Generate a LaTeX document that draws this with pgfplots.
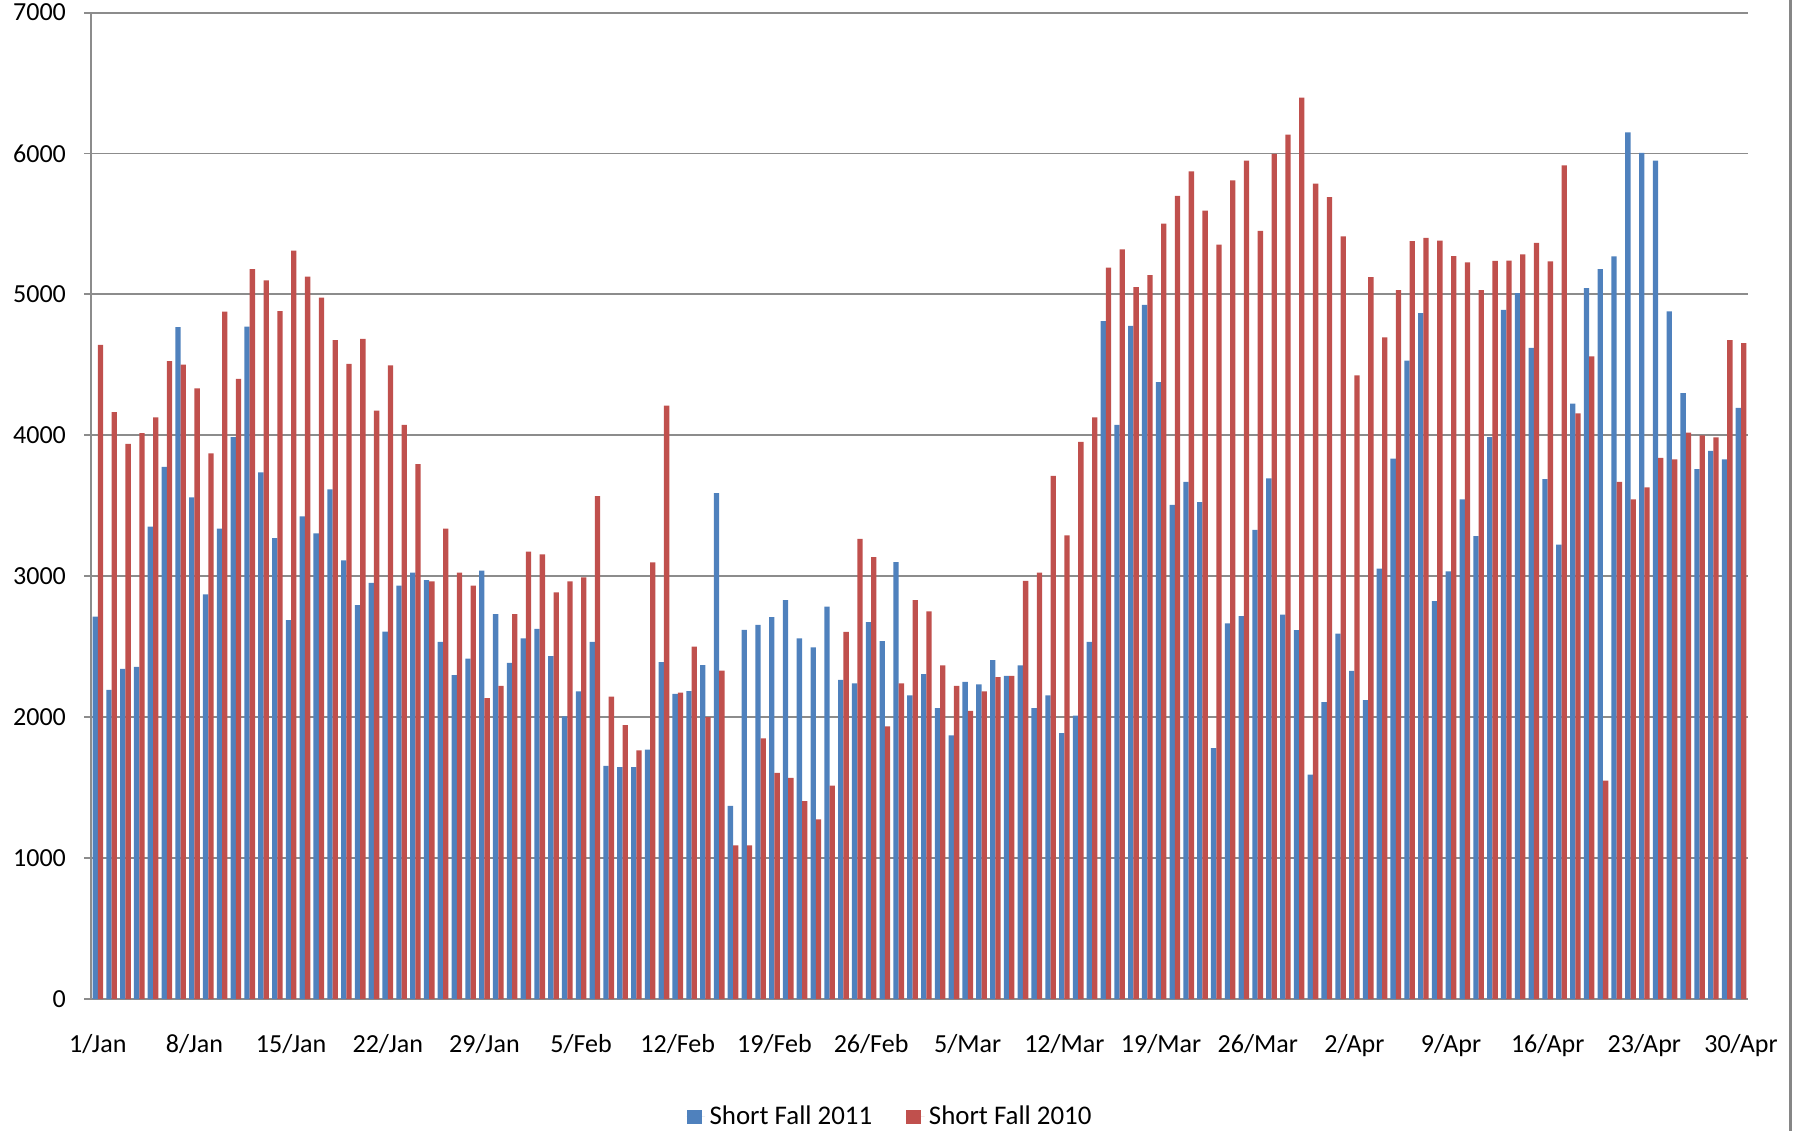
\documentclass[border=0pt]{standalone}
\usepackage{pgfplots}
\usepackage{pgfplotstable}
\usepackage{fontspec}
\setmainfont{Carlito}
\pgfplotsset{compat=1.18}
\definecolor{b11}{HTML}{4F81BD}
\definecolor{r10}{HTML}{C0504D}
\definecolor{gridc}{HTML}{8C8C8C}
\definecolor{framec}{HTML}{868686}
\pgfplotstableread{
x b r
0 2713 4642
1 2193 4165
2 2342 3939
3 2357 4016
4 3353 4127
5 3776 4526
6 4767 4502
7 3559 4334
8 2872 3872
9 3338 4877
10 3988 4401
11 4772 5180
12 3737 5099
13 3271 4882
14 2689 5310
15 3425 5127
16 3304 4978
17 3617 4675
18 3112 4507
19 2795 4685
20 2953 4175
21 2607 4497
22 2934 4074
23 3025 3795
24 2973 2963
25 2535 3338
26 2299 3025
27 2415 2934
28 3040 2136
29 2732 2222
30 2386 2732
31 2559 3175
32 2626 3155
33 2434 2886
34 2006 2963
35 2184 2992
36 2535 3569
37 1655 2145
38 1645 1943
39 1645 1765
40 1770 3098
41 2390 4210
42 2165 2175
43 2185 2500
44 2370 2000
45 3590 2330
46 1370 1090
47 2620 1090
48 2655 1850
49 2710 1605
50 2830 1570
51 2560 1405
52 2495 1275
53 2785 1515
54 2265 2605
55 2240 3265
56 2675 3135
57 2540 1935
58 3100 2240
59 2155 2830
60 2305 2751
61 2064 2367
62 1871 2222
63 2251 2044
64 2232 2184
65 2405 2285
66 2294 2294
67 2367 2968
68 2064 3025
69 2155 3713
70 1886 3290
71 2011 3954
72 2535 4127
73 4810 5190
74 4074 5320
75 4776 5051
76 4925 5137
77 4377 5503
78 3506 5700
79 3670 5873
80 3526 5594
81 1780 5354
82 2665 5810
83 2718 5950
84 3329 5450
85 3694 5998
86 2727 6133
87 2617 6397
88 1592 5786
89 2107 5690
90 2593 5411
91 2328 4425
92 2121 5122
93 3054 4695
94 3834 5031
95 4531 5378
96 4868 5402
97 2823 5382
98 3035 5272
99 3545 5228
100 3285 5031
101 3988 5238
102 4890 5240
103 5010 5285
104 4620 5365
105 3690 5235
106 3225 5915
107 4225 4155
108 5045 4560
109 5180 1550
110 5270 3670
111 6150 3545
112 6005 3630
113 5950 3840
114 4880 3830
115 4300 4020
116 3760 4000
117 3890 3985
118 3830 4675
119 4195 4655
}\datatable
\begin{document}
\begin{tikzpicture}
\begin{axis}[
  width=763.6pt, height=454.6pt,
  scale only axis,
  ybar=0pt, bar width=2.45pt,
  xmin=-0.5, xmax=119.5,
  ymin=0, ymax=7000,
  ytick={0,1000,...,7000},
  scaled y ticks=false,
  /pgf/number format/1000 sep={},
  /pgf/number format/assume math mode=true,
  xtick={0,7,...,119},
  xticklabels={1/Jan,8/Jan,15/Jan,22/Jan,29/Jan,5/Feb,12/Feb,19/Feb,26/Feb,5/Mar,12/Mar,19/Mar,26/Mar,2/Apr,9/Apr,16/Apr,23/Apr,30/Apr},
  axis x line*=bottom, axis y line*=left,
  axis line style={draw=gridc, line width=0.9pt},
  ymajorgrids, grid style={draw=gridc, line width=0.9pt},
  xtick style={draw=none},
  ytick style={draw=gridc, line width=0.9pt},
  tick align=outside, major tick length=3pt,
  tick label style={font=\fontsize{12}{14}\selectfont, text=black},
  yticklabel style={xshift=-5pt},
  xticklabel style={yshift=-10pt},
  legend columns=2,
  legend style={draw=none, at={(0.483,-0.1195)}, anchor=center,
    font=\fontsize{12.4}{14}\selectfont,
    /tikz/every even column/.append style={column sep=13.5pt}},
  legend image code/.code={\fill[#1] (0pt,-3.4pt) rectangle (6.9pt,3.4pt); \path (0pt,0pt) -- (8.6pt,0pt);},
]
\addplot[fill=b11, draw=none] table[x=x,y=b]{\datatable};
\addlegendentry{Short Fall 2011}
\addplot[fill=r10, draw=none] table[x=x,y=r]{\datatable};
\addlegendentry{Short Fall 2010}
\end{axis}
\pgfresetboundingbox
\path ([xshift=-41.9pt,yshift=-60.9pt]current axis.south west) rectangle ([xshift=21.7pt,yshift=5.8pt]current axis.north east);
\fill[framec] ([xshift=18.9pt,yshift=-60.9pt]current axis.south east) rectangle ([xshift=20.2pt,yshift=5.8pt]current axis.north east);
\end{tikzpicture}
\end{document}
